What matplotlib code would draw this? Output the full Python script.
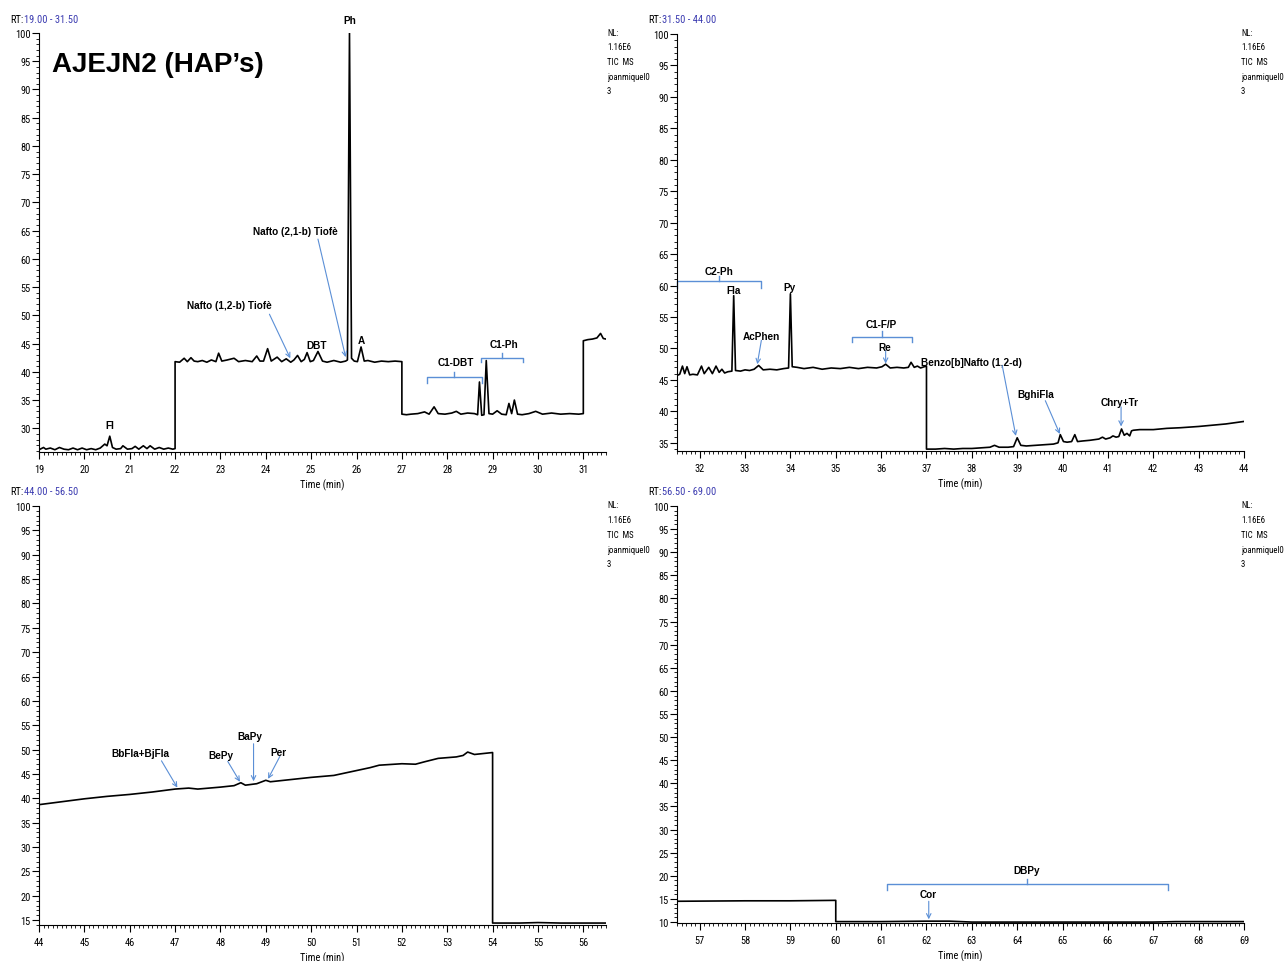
import math
import matplotlib
matplotlib.use("Agg")
import matplotlib.pyplot as plt
from matplotlib import font_manager
from matplotlib.ticker import MultipleLocator

# Fonts: a narrow sans for the axes text if one is installed, bold sans for peak labels
narrow_name, narrow_stretch = "Liberation Sans", "normal"
for f in font_manager.fontManager.ttflist:
    fn = f.fname.lower()
    if ("narrow" in fn or "condensed" in fn) and f.weight in (400, "normal", "regular") \
            and f.style == "normal":
        narrow_name, narrow_stretch = f.name, f.stretch
        if "liberation" in fn or "arial" in fn:
            break
plt.rcParams["font.family"] = [narrow_name, "DejaVu Sans"]
plt.rcParams["font.stretch"] = narrow_stretch
bold_fam = ["Liberation Sans", "DejaVu Sans"]

# ---- data ----
# panel 1 : RT 19.00 - 31.50
t1 = [19.0, 19.1, 19.15, 19.25, 19.35, 19.45, 19.55, 19.65, 19.75, 19.85, 19.95, 20.05,
      20.15, 20.25, 20.35, 20.45, 20.5, 20.56, 20.62, 20.7, 20.8, 20.85, 20.95, 21.05,
      21.12, 21.2, 21.3, 21.38, 21.45, 21.55, 21.65, 21.75, 21.85, 21.95, 22.0,
      22.0, 22.1, 22.2, 22.27, 22.35, 22.42, 22.5, 22.6, 22.7, 22.8, 22.9, 22.96, 23.03,
      23.15, 23.3, 23.4, 23.55, 23.7, 23.8, 23.87, 23.95, 24.04, 24.12, 24.25, 24.35,
      24.45, 24.55, 24.62, 24.7, 24.78, 24.85, 24.91, 24.98, 25.05, 25.15, 25.25, 25.35,
      25.5, 25.65, 25.76, 25.80, 25.845, 25.89, 25.95, 26.02, 26.1, 26.17, 26.25, 26.4,
      26.55, 26.7, 26.85, 27.0,
      27.0, 27.1, 27.2, 27.35, 27.5, 27.6, 27.71, 27.8, 27.95, 28.1, 28.2, 28.3, 28.45,
      28.6, 28.67, 28.71, 28.76, 28.81, 28.86, 28.92, 29.0, 29.1, 29.2, 29.3, 29.36,
      29.42, 29.48, 29.55, 29.65, 29.8, 29.95, 30.1, 30.3, 30.5, 30.7, 30.9, 31.0,
      31.0, 31.1, 31.2, 31.3, 31.38, 31.44, 31.5]
i1 = [26.2, 26.6, 26.3, 26.5, 26.2, 26.6, 26.3, 26.2, 26.5, 26.2, 26.5, 26.2,
      26.4, 26.2, 26.5, 27.2, 26.9, 28.6, 26.6, 26.3, 26.4, 26.9, 26.3, 26.4,
      26.8, 26.3, 26.9, 26.4, 26.9, 26.3, 26.6, 26.3, 26.5, 26.3, 26.4,
      41.8, 41.7, 42.4, 41.8, 42.5, 41.9, 41.8, 42.0, 41.7, 42.1, 41.8, 43.3, 41.9,
      42.1, 42.4, 41.8, 42.0, 41.8, 42.8, 41.9, 41.9, 44.1, 41.9, 42.6, 41.8,
      42.3, 41.7, 42.1, 42.9, 41.8, 42.2, 43.4, 41.8, 42.0, 43.6, 41.9, 41.7,
      42.0, 41.7, 41.9, 42.1, 100.0, 42.4, 41.9, 41.8, 44.4, 41.9, 42.0, 41.7,
      41.9, 41.8, 41.9, 41.8,
      32.5, 32.4, 32.5, 32.6, 32.9, 32.5, 33.8, 32.6, 32.5, 32.7, 33.0, 32.5, 32.7,
      32.6, 32.4, 38.2, 32.3, 32.4, 42.0, 32.6, 32.5, 33.1, 32.5, 32.4, 34.4,
      32.6, 35.0, 32.5, 32.4, 32.6, 33.0, 32.5, 32.7, 32.5, 32.6, 32.5, 32.6,
      45.5, 45.7, 45.8, 46.0, 46.8, 45.9, 45.8]

# panel 2 : RT 31.50 - 44.00
t2 = [31.5, 31.56, 31.62, 31.67, 31.72, 31.78, 31.85, 31.95, 32.04, 32.1, 32.2, 32.28,
      32.36, 32.43, 32.49, 32.55, 32.62, 32.71, 32.75, 32.79, 32.9, 33.0, 33.1, 33.2,
      33.3, 33.4, 33.55, 33.7, 33.85, 33.96, 34.0, 34.04, 34.15, 34.3, 34.5, 34.7,
      34.9, 35.1, 35.3, 35.5, 35.7, 35.9, 36.02, 36.1, 36.2, 36.35, 36.5, 36.6, 36.66,
      36.73, 36.8, 36.87, 36.95, 37.0,
      37.0, 37.2, 37.4, 37.6, 37.8, 38.0, 38.2, 38.4, 38.5, 38.6, 38.8, 38.92, 39.0,
      39.08, 39.2, 39.4, 39.6, 39.8, 39.9, 39.95, 40.02, 40.1, 40.2, 40.27, 40.33,
      40.45, 40.6, 40.8, 40.88, 40.95, 41.05, 41.11, 41.18, 41.24, 41.3, 41.36, 41.42,
      41.48, 41.52, 41.56, 41.7, 42.0, 42.3, 42.6, 43.0, 43.3, 43.6, 43.8, 44.0]
i2 = [45.7, 45.9, 47.2, 46.0, 47.1, 45.8, 45.9, 45.8, 47.2, 46.0, 47.0, 46.0,
      47.2, 46.2, 46.7, 46.1, 46.3, 46.4, 58.4, 46.5, 46.4, 46.6, 46.5, 46.7,
      47.3, 46.6, 46.7, 46.6, 46.8, 46.9, 58.7, 47.1, 47.0, 46.8, 47.0, 46.7,
      46.9, 46.8, 47.0, 46.8, 47.0, 46.9, 47.1, 47.5, 46.9, 47.0, 46.9, 47.0, 47.8,
      47.0, 47.2, 46.9, 47.1, 47.2,
      34.0, 34.0, 34.1, 34.0, 34.1, 34.1, 34.2, 34.3, 34.6, 34.3, 34.3, 34.4, 35.8,
      34.6, 34.5, 34.6, 34.7, 34.8, 35.0, 36.3, 35.2, 35.1, 35.2, 36.3, 35.2,
      35.3, 35.4, 35.6, 35.9, 35.6, 35.8, 36.1, 35.9, 36.0, 37.2, 36.2, 36.5,
      36.1, 36.9, 37.0, 37.1, 37.1, 37.3, 37.4, 37.6, 37.8, 38.0, 38.2, 38.4]

# panel 3 : RT 44.00 - 56.50
t3 = [44.0, 44.5, 45.0, 45.5, 46.0, 46.5, 47.0, 47.3, 47.5, 48.0, 48.3, 48.45, 48.55,
      48.8, 49.0, 49.1, 49.5, 50.0, 50.5, 51.0, 51.3, 51.5, 52.0, 52.3, 52.5, 52.8,
      53.2, 53.35, 53.45, 53.6, 53.8, 54.0,
      54.0, 54.6, 55.0, 55.5, 56.0, 56.5]
i3 = [38.7, 39.3, 39.9, 40.4, 40.8, 41.3, 41.9, 42.1, 41.9, 42.3, 42.6, 43.2, 42.7,
      43.0, 43.7, 43.4, 43.8, 44.3, 44.7, 45.7, 46.3, 46.8, 47.1, 47.0, 47.5, 48.2,
      48.5, 48.8, 49.5, 49.0, 49.2, 49.4,
      14.4, 14.4, 14.5, 14.4, 14.4, 14.4]

# panel 4 : RT 56.50 - 69.00
t4 = [56.5, 58.0, 59.0, 60.0, 60.0, 61.0, 62.0, 62.5, 63.0, 64.0, 65.0, 66.0, 67.0,
      67.5, 68.0, 69.0]
i4 = [14.5, 14.6, 14.6, 14.7, 10.1, 10.1, 10.2, 10.2, 10.0, 10.0, 10.0, 10.0, 10.0,
      10.1, 10.1, 10.1]

ranges = [(19.0, 31.5), (31.5, 44.0), (44.0, 56.5), (56.5, 69.0)]
ybottom = [25.8, 33.7, 14.0, 9.8]
ymajor = [(30, 100), (35, 100), (15, 100), (10, 100)]
nl_lines = ["NL:", "1.16E6", "TIC  MS", "joanmiquel0", "3"]

# peak labels: (panel, text, x, y)
labels = [
    (0, "Fl", 20.57, 30.6), (0, "Ph", 25.84, 102.3), (0, "Nafto (2,1-b) Tiofè", 24.65, 65.0),
    (0, "Nafto (1,2-b) Tiofè", 23.2, 51.9), (0, "DBT", 25.13, 44.8), (0, "A", 26.1, 45.6),
    (0, "C1-DBT", 28.18, 41.7), (0, "C1-Ph", 29.24, 45.0),
    (1, "C2-Ph", 32.42, 62.3), (1, "Fla", 32.75, 59.3), (1, "Py", 33.99, 59.7),
    (1, "AcPhen", 33.37, 52.0), (1, "C1-F/P", 36.0, 53.9), (1, "Re", 36.08, 50.3),
    (1, "Benzo[b]Nafto (1,2-d)", 38.0, 47.9), (1, "BghiFla", 39.4, 42.8),
    (1, "Chry+Tr", 41.26, 41.5),
    (2, "BbFla+BjFla", 46.23, 49.3), (2, "BePy", 48.0, 48.8), (2, "BaPy", 48.65, 52.7),
    (2, "Per", 49.28, 49.5),
    (3, "DBPy", 64.21, 21.2), (3, "Cor", 62.03, 16.0),
]
# arrows: (panel, x_from, y_from, x_to, y_to)
arrows = [
    (0, 25.15, 63.5, 25.76, 42.6), (0, 24.08, 50.2, 24.54, 42.4),
    (1, 33.36, 51.3, 33.27, 47.5), (1, 36.1, 49.6, 36.1, 47.6),
    (1, 38.67, 47.3, 38.97, 36.1), (1, 39.62, 41.7, 39.94, 36.4),
    (1, 41.29, 40.7, 41.29, 37.6),
    (2, 46.7, 47.7, 47.05, 42.2), (2, 48.16, 47.6, 48.43, 43.4),
    (2, 48.73, 51.2, 48.73, 43.5), (2, 49.31, 48.6, 49.05, 44.0),
    (3, 62.05, 14.5, 62.05, 10.6),
]
# brackets: (panel, x_left, x_right, y, drop, rise)
brackets = [
    (0, 27.55, 28.76, 39.0, 0.9, 0.9), (0, 28.74, 29.66, 42.5, 0.85, 0.9),
    (1, 31.5, 33.36, 60.7, 1.1, 0.8), (1, 35.35, 36.69, 51.9, 0.9, 0.8),
    (3, 61.13, 67.32, 18.2, 1.3, 1.1),
]
traces = [(t1, i1), (t2, i2), (t3, i3), (t4, i4)]

blue = "#5b8fd6"
fig = plt.figure(figsize=(12.85, 9.62), dpi=100)
W, H = 1285, 962
boxes = [(39, 606, 34, 453), (677, 1244, 35, 452), (39, 606, 507, 926), (677, 1244, 507, 924)]
axes = []
for k, (x0, x1, y0, y1) in enumerate(boxes):
    ax = fig.add_axes([x0 / W, 1 - y1 / H, (x1 - x0) / W, (y1 - y0) / H])
    t, v = traces[k]
    ax.plot(t, v, color="black", lw=1.2)
    lo, hi = ranges[k]
    ax.set_xlim(lo, hi)
    ax.set_ylim(ybottom[k], 100)
    ax.set_yticks(range(ymajor[k][0], ymajor[k][1] + 1, 5))
    ax.yaxis.set_minor_locator(MultipleLocator(1))
    ax.set_xticks(range(math.ceil(lo), math.floor(hi) + 1))
    ax.xaxis.set_minor_locator(MultipleLocator(0.1))
    ax.spines["top"].set_visible(False)
    ax.spines["right"].set_visible(False)
    ax.tick_params(which="major", length=5, width=0.8, labelsize=7.5)
    ax.tick_params(axis="y", which="major", pad=1)
    ax.tick_params(axis="x", which="major", pad=4)
    ax.tick_params(which="minor", length=2.5, width=0.6)
    ax.set_xlabel("Time (min)", fontsize=7.5, labelpad=3)
    axes.append(ax)

# header texts (position of each panel's "RT:" line) and NL block
rt_pos = [(10, 20), (648, 20), (10, 492), (648, 492)]
for k, (px, py) in enumerate(rt_pos):
    fig.text(px / W, 1 - py / H, "RT:", fontsize=7.5, va="center")
    fig.text((px + 14) / W, 1 - py / H, "%.2f - %.2f" % ranges[k], fontsize=7.5,
             va="center", color="#3a3ab0")
    nx = 607 if k % 2 == 0 else 1241
    ny = 33 if k < 2 else 506
    for j, line in enumerate(nl_lines):
        fig.text(nx / W, 1 - (ny + 14.7 * j) / H, line, fontsize=6.3, va="center")

for k, txt, x, y in labels:
    axes[k].text(x, y, txt, fontsize=7.2, fontweight="bold", family=bold_fam,
                 ha="center", va="center", clip_on=False)
for k, xa, ya, xb, yb in arrows:
    axes[k].annotate("", xy=(xb, yb), xytext=(xa, ya),
                     arrowprops=dict(arrowstyle="->", color=blue, lw=0.8,
                                     shrinkA=0, shrinkB=0, mutation_scale=8))
for k, xl, xr, y, drop, rise in brackets:
    xm = (xl + xr) / 2
    axes[k].plot([xl, xl, xr, xr], [y - drop, y, y, y - drop], color=blue, lw=1.0,
                 clip_on=False)
    axes[k].plot([xm, xm], [y, y + rise], color=blue, lw=1.0)

fig.text(52 / W, 1 - 65 / H, "AJEJN2 (HAP’s)", fontsize=20, fontweight="bold",
         family=bold_fam, va="center")

fig.savefig("out.png", dpi=100)
